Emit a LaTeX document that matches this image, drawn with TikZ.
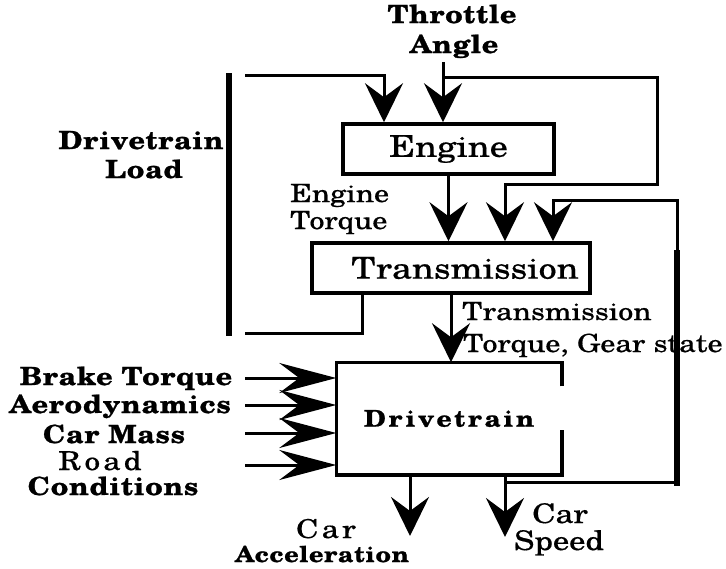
\documentclass[tikz,border=0pt]{standalone}
\usepackage{fontspec}
\usetikzlibrary{arrows.meta}
\newfontfamily\regf{texgyreschola-regular.otf}[FakeStretch=1.2,FakeBold=0.5]
\newfontfamily\regw{texgyreschola-regular.otf}[FakeStretch=1.2,FakeBold=0.5,LetterSpace=12]
\newfontfamily\bldf{texgyreschola-bold.otf}[FakeStretch=1.15,LetterSpace=3,FakeBold=1]
\newfontfamily\bldw{texgyreschola-bold.otf}[FakeStretch=1.15,LetterSpace=12,FakeBold=1]
\tikzset{
  conn/.style={line width=3pt},
  bar/.style={line width=5.5pt},
  dn/.style={conn,-{Stealth[length=39pt,width=38pt,inset=14pt]}},
  rt/.style={conn,-{Stealth[length=57pt,width=30pt,inset=20pt]}},
  boxstyle/.style={draw,line width=3.5pt,inner sep=0pt,font=\regf\fontsize{30}{34}\selectfont},
  lab/.style={inner sep=0pt,font=\regf\fontsize{25}{29}\selectfont},
  wlab/.style={inner sep=0pt,font=\regw\fontsize{26}{30}\selectfont},
  blab/.style={inner sep=0pt,font=\bldf\fontsize{25}{29}\selectfont},
}
\begin{document}
\begin{tikzpicture}[x=1pt,y=-1pt]
\useasboundingbox (0,0) rectangle (726,568);
% boxes
\node[boxstyle,minimum width=211pt,minimum height=50pt] (eng) at (448.5,149) {Engine};
\node[boxstyle,minimum width=278pt,minimum height=50pt] (trn) at (451,268) {\hspace*{28pt}Transmission};
\node[boxstyle,draw=none,minimum width=222pt,minimum height=109pt,font=\bldw\fontsize{23}{27}\selectfont] (drv) at (449,418.5) {Drivetrain};
\draw[line width=3.5pt] ([yshift=-24pt]drv.north east) -- (drv.north east) -- (drv.north west) -- (drv.south west) -- (drv.south east) -- ([yshift=45pt]drv.south east);
% labels
\node[blab,anchor=base] (thr1) at (452,23) {Throttle};
\node[blab,anchor=base] (thr2) at (454,53) {Angle};
\node[blab,anchor=base] (dl1) at (141,149) {Drivetrain};
\node[blab,anchor=base] (dl2) at (144,178) {Load};
\node[lab,anchor=base west] (et1) at (290,202) {Engine};
\node[lab,anchor=base west] (et2) at (290,229) {Torque};
\node[lab,anchor=base west] (tt1) at (462,320) {Transmission};
\node[lab,anchor=base west] (tt2) at (463,352) {Torque, Gear state};
\node[blab,anchor=base] (bt) at (126,385) {Brake Torque};
\node[blab,anchor=base] (ae) at (120,413) {Aerodynamics};
\node[blab,anchor=base] (cm) at (114,443) {Car Mass};
\node[wlab,anchor=base] (rc1) at (100,470) {Road};
\node[blab,anchor=base] (rc2) at (113,495) {Conditions};
\node[wlab,anchor=base] (ca1) at (326,538) {Car};
\node[blab,anchor=base,font=\bldf\fontsize{22}{26}\selectfont] (ca2) at (322,562) {Acceleration};
\node[lab,anchor=base,font=\regf\fontsize{27}{31}\selectfont] (cs1) at (560,523) {Car};
\node[lab,anchor=base,font=\regf\fontsize{27}{31}\selectfont] (cs2) at (559,550) {Speed};
% coordinates
\coordinate (tin) at (443,62);
\coordinate (tj) at (443,77);
\coordinate (rA) at (657,184);
\coordinate (lA) at (245,75);
\coordinate (lB) at (245,333);
\coordinate (bL1) at (229,73);
\coordinate (bL2) at (229,336);
\coordinate (fbJ) at (505,482);
\coordinate (rB) at (677,200);
\coordinate (bR1) at (677,250);
\coordinate (bR2) at (677,486);
\coordinate (accOut) at (410,536);
\coordinate (spdOut) at (505,537);
\coordinate (in1) at (245,378);
\coordinate (in2) at (245,405);
\coordinate (in3) at (245,433);
\coordinate (in4) at (245,465);
% connectors
\draw[dn] (tin) -- (tin |- eng.north);
\draw[dn] (tj) -| (rA) -| ([xshift=54pt]trn.north);
\draw[dn] (lA) -| ([xshift=-64.5pt]eng.north);
\draw[conn] ([xshift=-89pt]trn.south) |- (lB);
\draw[bar] (bL1) -- (bL2);
\draw[dn] (eng.south) -- (eng.south |- trn.north);
\draw[dn] (trn.south) -- (trn.south |- drv.north);
\draw[dn] (accOut |- drv.south) -- (accOut);
\draw[dn] (spdOut |- drv.south) -- (spdOut);
\draw[dn] (fbJ) -| (rB) -| ([xshift=102pt]trn.north);
\draw[bar] (bR1) -- (bR2);
\draw[rt] (in1) -- (in1 -| drv.west);
\draw[rt] (in2) -- (in2 -| drv.west);
\draw[rt] (in3) -- (in3 -| drv.west);
\draw[rt] (in4) -- (in4 -| drv.west);
\end{tikzpicture}
\end{document}
